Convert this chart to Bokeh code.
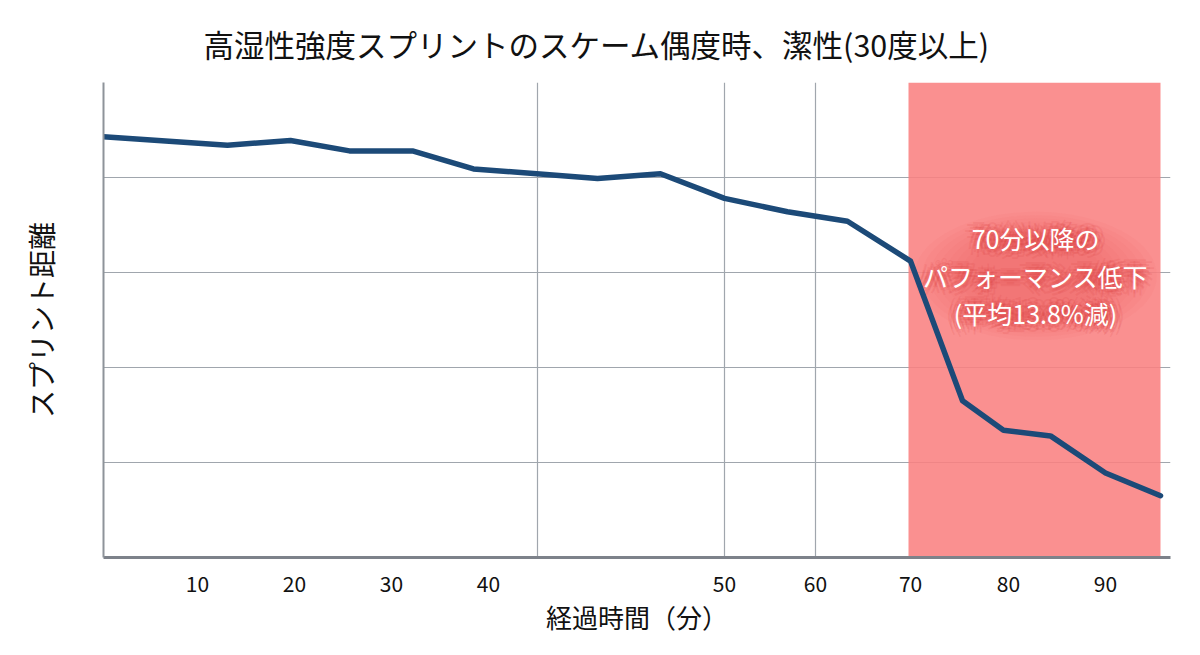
from bokeh.plotting import figure
from bokeh.models import FixedTicker, Range1d
from bokeh.core.properties import value
from bokeh.embed import file_html
from bokeh.resources import INLINE

# ---- data (x in axis-position units, y in relative sprint-distance units) ----
x_pos = [0.31, 13.09, 19.59, 25.67, 32.16, 38.45, 51.24, 57.73, 64.33,
         70.82, 77.01, 83.51, 88.87, 93.09, 97.94, 103.61, 109.28]
sprint = [4.43, 4.34, 4.39, 4.28, 4.28, 4.09, 3.99, 4.04, 3.78,
          3.64, 3.54, 3.12, 1.65, 1.34, 1.28, 0.89, 0.65]

tick_pos = [10, 20, 30, 40, 64.33, 73.71, 83.51, 93.6, 103.6]
tick_labels = ["10", "20", "30", "40", "50", "60", "70", "80", "90"]
vgrid_pos = [45.05, 64.33, 73.71]
hgrid_pos = [1, 2, 3, 4, 5]

zone_start = [83.3]
zone_end = [109.28]

note_x = [96.4, 96.4, 96.4]
note_y = [3.36, 2.96, 2.57]
note_text = ["70分以降の", "パフォーマンス低下", "(平均13.8%減)"]

title_text = "高湿性強度スプリントのスケーム偶度時、潔性(30度以上)"
x_title = "経過時間（分）"
y_title = "スプリント距離"

FONT = "Noto Sans CJK JP"

p = figure(width=1184, height=639, output_backend="svg", toolbar_location=None,
           x_range=Range1d(0.31, 110.31), y_range=Range1d(0, 5),
           min_border_left=103, min_border_right=14, min_border_top=82,
           min_border_bottom=82, title=title_text)
p.background_fill_color = "white"
p.border_fill_color = "white"
p.outline_line_color = None

p.title.align = "left"
p.title.text_font = FONT
p.title.text_font_size = "30.5px"
p.title.text_font_style = "normal"
p.title.text_color = "#111111"
p.title.text_line_height = 0.8
p.title.offset = 100
p.title.standoff = 34

# grids
p.xgrid.ticker = FixedTicker(ticks=vgrid_pos)
p.ygrid.ticker = FixedTicker(ticks=hgrid_pos)
p.xgrid.grid_line_color = "#a0a6ad"
p.ygrid.grid_line_color = "#a0a6ad"
p.xgrid.grid_line_width = 1.2
p.ygrid.grid_line_width = 1.2

# x axis
p.xaxis.ticker = FixedTicker(ticks=tick_pos)
p.xaxis.major_label_overrides = {t: l for t, l in zip(tick_pos, tick_labels)}
p.xaxis.major_tick_line_color = None
p.xaxis.minor_tick_line_color = None
p.xaxis.axis_line_color = "#7d828a"
p.xaxis.axis_line_width = 3
p.xaxis.major_label_text_font = FONT
p.xaxis.major_label_text_font_size = "21px"
p.xaxis.major_label_text_color = "#111111"
p.xaxis.major_label_standoff = 12
p.xaxis.axis_label = x_title
p.xaxis.axis_label_text_font = FONT
p.xaxis.axis_label_text_font_size = "26px"
p.xaxis.axis_label_text_font_style = "normal"
p.xaxis.axis_label_text_color = "#111111"
p.xaxis.axis_label_standoff = 3

# y axis
p.yaxis.ticker = FixedTicker(ticks=hgrid_pos)
p.yaxis.major_label_overrides = {t: "" for t in hgrid_pos}
p.yaxis.major_tick_line_color = None
p.yaxis.minor_tick_line_color = None
p.yaxis.axis_line_color = "#8e939a"
p.yaxis.axis_line_width = 2
p.yaxis.axis_label = y_title
p.yaxis.axis_label_text_font = FONT
p.yaxis.axis_label_text_font_size = "28px"
p.yaxis.axis_label_text_font_style = "normal"
p.yaxis.axis_label_text_color = "#111111"
p.yaxis.axis_label_standoff = 37

# highlighted zone
p.quad(left=zone_start, right=zone_end, bottom=[0], top=[5],
       fill_color="#f98181", fill_alpha=0.88, line_color=None)

# soft glow behind annotation text
cx = sum(note_x) / len(note_x)
cy = sum(note_y) / len(note_y)
for i in range(8):
    w = 25 - i * 1.6
    h = 1.35 - i * 0.07
    p.ellipse(x=[cx], y=[cy], width=[w], height=[h],
              fill_color="#e64646", fill_alpha=0.05, line_color=None)

# text shadow halo
for dx, dy in [(-4, 0), (4, 0), (0, -4), (0, 4), (-3, -3), (3, 3), (-3, 3), (3, -3),
               (-8, 0), (8, 0), (0, -8), (0, 8), (-6, -6), (6, 6), (-6, 6), (6, -6)]:
    p.text(x=note_x, y=note_y, text=note_text, text_color="#d83a3a",
           text_alpha=0.12, x_offset=dx, y_offset=dy,
           text_font=value(FONT), text_font_size="25px",
           text_align="center", text_baseline="middle")

# main line
p.line(x_pos, sprint, line_color="#1c4a78", line_width=5.5,
       line_join="round", line_cap="round")

# annotation text
p.text(x=note_x, y=note_y, text=note_text, text_color="white",
       text_font=value(FONT), text_font_size="25px",
       text_align="center", text_baseline="middle")

open("out.html", "w").write(file_html(p, INLINE))
